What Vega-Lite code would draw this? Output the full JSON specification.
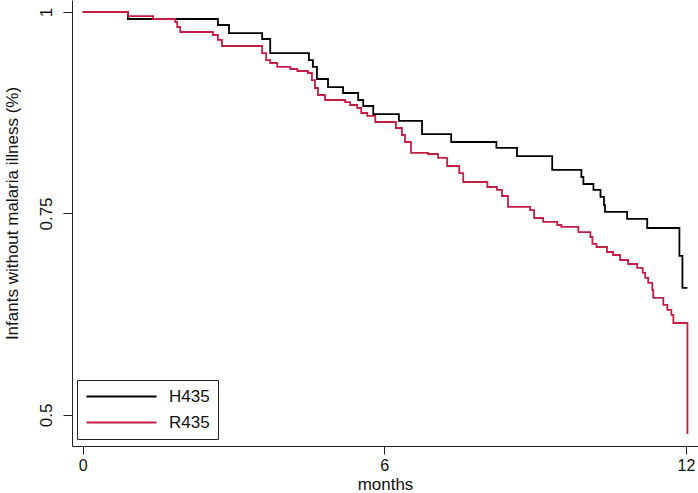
{
  "$schema": "https://vega.github.io/schema/vega-lite/v6.json",
  "width": 626,
  "height": 446,
  "autosize": {"type": "none"},
  "padding": {"left": 72, "top": 0, "right": 0, "bottom": 47},
  "background": "white",
  "config": {
    "view": {"stroke": null},
    "font": "Liberation Sans"
  },
  "data": {
    "values": [
      {"group": "H435", "month": 0, "surv": 1},
      {"group": "H435", "month": 0.90, "surv": 0.9913},
      {"group": "H435", "month": 2.69, "surv": 0.9839},
      {"group": "H435", "month": 2.91, "surv": 0.9739},
      {"group": "H435", "month": 3.57, "surv": 0.9665},
      {"group": "H435", "month": 3.73, "surv": 0.9491},
      {"group": "H435", "month": 4.50, "surv": 0.9404},
      {"group": "H435", "month": 4.58, "surv": 0.9318},
      {"group": "H435", "month": 4.66, "surv": 0.9169},
      {"group": "H435", "month": 4.88, "surv": 0.9069},
      {"group": "H435", "month": 5.18, "surv": 0.8995},
      {"group": "H435", "month": 5.48, "surv": 0.8908},
      {"group": "H435", "month": 5.58, "surv": 0.8834},
      {"group": "H435", "month": 5.78, "surv": 0.8734},
      {"group": "H435", "month": 6.29, "surv": 0.8648},
      {"group": "H435", "month": 6.75, "surv": 0.8486},
      {"group": "H435", "month": 7.33, "surv": 0.8387},
      {"group": "H435", "month": 8.23, "surv": 0.8313},
      {"group": "H435", "month": 8.64, "surv": 0.8213},
      {"group": "H435", "month": 9.34, "surv": 0.8040},
      {"group": "H435", "month": 9.92, "surv": 0.7953},
      {"group": "H435", "month": 9.96, "surv": 0.7866},
      {"group": "H435", "month": 10.16, "surv": 0.7792},
      {"group": "H435", "month": 10.30, "surv": 0.7705},
      {"group": "H435", "month": 10.37, "surv": 0.7605},
      {"group": "H435", "month": 10.39, "surv": 0.7519},
      {"group": "H435", "month": 10.83, "surv": 0.7432},
      {"group": "H435", "month": 11.23, "surv": 0.7320},
      {"group": "H435", "month": 11.87, "surv": 0.6973},
      {"group": "H435", "month": 11.93, "surv": 0.6576},
      {"group": "H435", "month": 12.03, "surv": 0.6576},
      {"group": "R435", "month": 0, "surv": 1},
      {"group": "R435", "month": 0.90, "surv": 0.9950},
      {"group": "R435", "month": 1.40, "surv": 0.9913},
      {"group": "R435", "month": 1.84, "surv": 0.9876},
      {"group": "R435", "month": 1.88, "surv": 0.9814},
      {"group": "R435", "month": 1.94, "surv": 0.9752},
      {"group": "R435", "month": 2.59, "surv": 0.9715},
      {"group": "R435", "month": 2.69, "surv": 0.9653},
      {"group": "R435", "month": 2.77, "surv": 0.9578},
      {"group": "R435", "month": 3.57, "surv": 0.9491},
      {"group": "R435", "month": 3.65, "surv": 0.9404},
      {"group": "R435", "month": 3.73, "surv": 0.9367},
      {"group": "R435", "month": 3.87, "surv": 0.9318},
      {"group": "R435", "month": 4.13, "surv": 0.9293},
      {"group": "R435", "month": 4.27, "surv": 0.9268},
      {"group": "R435", "month": 4.48, "surv": 0.9243},
      {"group": "R435", "month": 4.56, "surv": 0.9156},
      {"group": "R435", "month": 4.62, "surv": 0.9057},
      {"group": "R435", "month": 4.68, "surv": 0.8970},
      {"group": "R435", "month": 4.82, "surv": 0.8908},
      {"group": "R435", "month": 5.22, "surv": 0.8883},
      {"group": "R435", "month": 5.32, "surv": 0.8846},
      {"group": "R435", "month": 5.46, "surv": 0.8809},
      {"group": "R435", "month": 5.54, "surv": 0.8747},
      {"group": "R435", "month": 5.66, "surv": 0.8710},
      {"group": "R435", "month": 5.82, "surv": 0.8635},
      {"group": "R435", "month": 6.23, "surv": 0.8561},
      {"group": "R435", "month": 6.35, "surv": 0.8474},
      {"group": "R435", "month": 6.41, "surv": 0.8387},
      {"group": "R435", "month": 6.53, "surv": 0.8251},
      {"group": "R435", "month": 6.87, "surv": 0.8238},
      {"group": "R435", "month": 7.07, "surv": 0.8189},
      {"group": "R435", "month": 7.25, "surv": 0.8089},
      {"group": "R435", "month": 7.49, "surv": 0.8002},
      {"group": "R435", "month": 7.57, "surv": 0.7891},
      {"group": "R435", "month": 8.05, "surv": 0.7829},
      {"group": "R435", "month": 8.24, "surv": 0.7792},
      {"group": "R435", "month": 8.34, "surv": 0.7717},
      {"group": "R435", "month": 8.46, "surv": 0.7581},
      {"group": "R435", "month": 8.90, "surv": 0.7543},
      {"group": "R435", "month": 8.98, "surv": 0.7444},
      {"group": "R435", "month": 9.16, "surv": 0.7395},
      {"group": "R435", "month": 9.44, "surv": 0.7357},
      {"group": "R435", "month": 9.52, "surv": 0.7333},
      {"group": "R435", "month": 9.86, "surv": 0.7270},
      {"group": "R435", "month": 10.10, "surv": 0.7208},
      {"group": "R435", "month": 10.14, "surv": 0.7122},
      {"group": "R435", "month": 10.22, "surv": 0.7084},
      {"group": "R435", "month": 10.43, "surv": 0.7022},
      {"group": "R435", "month": 10.55, "surv": 0.6985},
      {"group": "R435", "month": 10.69, "surv": 0.6923},
      {"group": "R435", "month": 10.85, "surv": 0.6873},
      {"group": "R435", "month": 11.03, "surv": 0.6824},
      {"group": "R435", "month": 11.14, "surv": 0.6762},
      {"group": "R435", "month": 11.19, "surv": 0.6700},
      {"group": "R435", "month": 11.25, "surv": 0.6638},
      {"group": "R435", "month": 11.33, "surv": 0.6551},
      {"group": "R435", "month": 11.35, "surv": 0.6452},
      {"group": "R435", "month": 11.55, "surv": 0.6365},
      {"group": "R435", "month": 11.63, "surv": 0.6303},
      {"group": "R435", "month": 11.71, "surv": 0.6241},
      {"group": "R435", "month": 11.75, "surv": 0.6141},
      {"group": "R435", "month": 12.03, "surv": 0.4764}
    ]
  },
  "mark": {"type": "line", "interpolate": "step-after", "strokeWidth": 1.8},
  "encoding": {
    "x": {
      "field": "month",
      "type": "quantitative",
      "scale": {"domain": [-0.213, 12.24], "nice": false, "zero": false},
      "axis": {
        "values": [0, 6, 12],
        "title": "months",
        "grid": false,
        "domainColor": "#222222",
        "domainWidth": 1,
        "tickColor": "#222222",
        "tickSize": 8,
        "labelFontSize": 16,
        "labelColor": "#111111",
        "labelPadding": 3,
        "labelFlush": false,
        "titleFontSize": 17,
        "titleFontWeight": "normal",
        "titleColor": "#111111",
        "titleBaseline": "bottom",
        "titleY": 47
      }
    },
    "y": {
      "field": "surv",
      "type": "quantitative",
      "scale": {"domain": [0.4615, 1.0149], "nice": false, "zero": false},
      "axis": {
        "values": [0.5, 0.75, 1],
        "labelExpr": "datum.value + ''",
        "title": "Infants without malaria illness (%)",
        "grid": false,
        "domainColor": "#222222",
        "domainWidth": 1,
        "tickColor": "#222222",
        "tickSize": 9,
        "labelAngle": -90,
        "labelAlign": "center",
        "labelBaseline": "bottom",
        "labelFontSize": 17,
        "labelColor": "#111111",
        "labelPadding": 8,
        "titleFontSize": 17,
        "titleFontWeight": "normal",
        "titleColor": "#111111",
        "titleAngle": 270,
        "titleAlign": "center",
        "titleBaseline": "middle",
        "titleX": -60,
        "titleY": 213
      }
    },
    "color": {
      "field": "group",
      "type": "nominal",
      "scale": {"domain": ["H435", "R435"], "range": ["#000000", "#c41e45"]},
      "legend": {
        "title": null,
        "orient": "none",
        "legendX": 5,
        "legendY": 380,
        "symbolType": "M-1,0H9",
        "symbolSize": 196,
        "symbolStrokeWidth": 2,
        "symbolFillColor": "transparent",
        "labelOffset": 67,
        "labelFontSize": 17,
        "labelColor": "#111111",
        "rowPadding": 8,
        "padding": 8,
        "strokeColor": "#222222",
        "fillColor": "white",
        "cornerRadius": 0
      }
    }
  }
}
